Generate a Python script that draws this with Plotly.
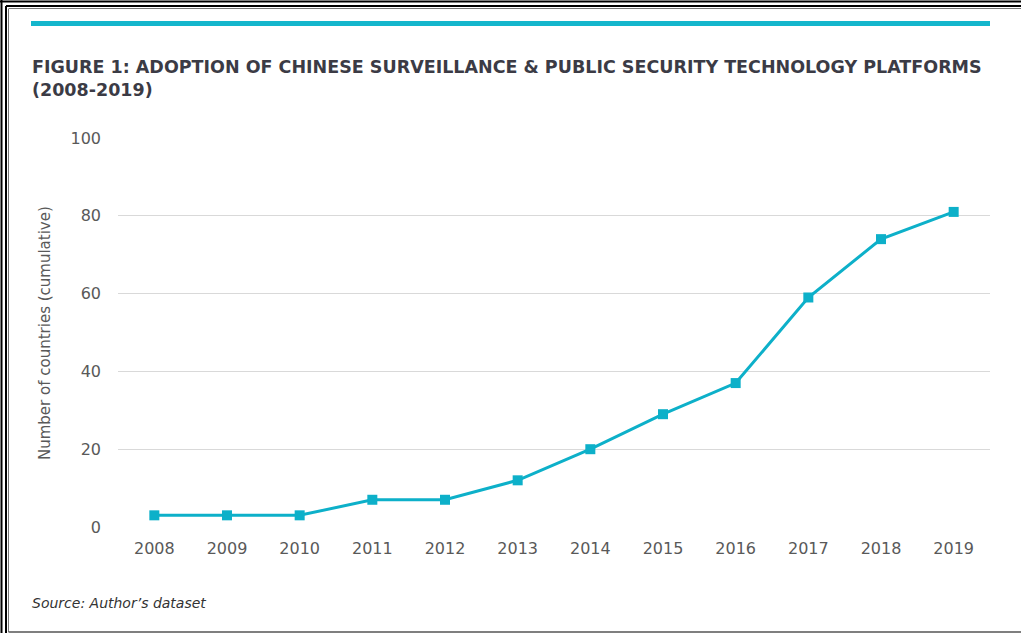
import plotly.graph_objects as go

years = ["2008", "2009", "2010", "2011", "2012", "2013", "2014", "2015", "2016", "2017", "2018", "2019"]
countries = [3, 3, 3, 7, 7, 12, 20, 29, 37, 59, 74, 81]
y_ticks = [0, 20, 40, 60, 80, 100]

W, H = 1021, 633
def px(x):
    return x / W
def py(y):
    return 1 - y / H

TEAL = "#0db0c9"
TXT = "#595959"
FONT = "DejaVu Sans, Liberation Sans, sans-serif"

fig = go.Figure()
fig.add_trace(go.Scatter(
    x=years, y=countries, mode="lines+markers",
    line=dict(color=TEAL, width=3),
    marker=dict(symbol="square", size=10, color=TEAL),
    cliponaxis=False, showlegend=False, hoverinfo="x+y",
))

fig.update_layout(
    width=W, height=H,
    margin=dict(l=0, r=0, t=0, b=0),
    paper_bgcolor="white", plot_bgcolor="white",
    font=dict(family=FONT, color=TXT, size=16),
    xaxis=dict(
        domain=[px(118), px(990)], type="category", range=[-0.5, 11.5],
        showgrid=False, zeroline=False, showline=False, ticks="",
        tickfont=dict(size=16, color=TXT), ticklabelstandoff=10, automargin=False,
    ),
    yaxis=dict(
        domain=[py(527), py(138)], range=[0, 100], tickvals=y_ticks,
        showgrid=True, gridcolor="#d9d9d9", gridwidth=1, zeroline=False, showline=False,
        ticks="", tickfont=dict(size=16, color=TXT), ticklabelstandoff=16, automargin=False,
    ),
    shapes=[
        # teal top bar
        dict(type="rect", xref="paper", yref="paper", x0=px(31), x1=px(990), y0=py(26), y1=py(21),
             fillcolor="#14b6cc", line=dict(width=0)),
        # outer double border (top)
        dict(type="line", xref="paper", yref="paper", x0=0, x1=1, y0=py(1.5), y1=py(1.5),
             line=dict(color="black", width=2)),
        dict(type="line", xref="paper", yref="paper", x0=px(6), x1=1, y0=py(6), y1=py(6),
             line=dict(color="black", width=2)),
        dict(type="line", xref="paper", yref="paper", x0=px(9), x1=1, y0=py(8.5), y1=py(8.5),
             line=dict(color="#777777", width=1)),
        # left
        dict(type="line", xref="paper", yref="paper", x0=px(1.5), x1=px(1.5), y0=0, y1=1,
             line=dict(color="black", width=2)),
        dict(type="line", xref="paper", yref="paper", x0=px(6), x1=px(6), y0=0, y1=py(6),
             line=dict(color="black", width=2)),
        dict(type="line", xref="paper", yref="paper", x0=px(8.5), x1=px(8.5), y0=py(632), y1=py(8.5),
             line=dict(color="#777777", width=1)),
        # bottom
        dict(type="line", xref="paper", yref="paper", x0=px(8.5), x1=1, y0=py(632), y1=py(632),
             line=dict(color="#555555", width=1.5)),
    ],
    annotations=[
        dict(text="<b>FIGURE 1: ADOPTION OF CHINESE SURVEILLANCE &amp; PUBLIC SECURITY TECHNOLOGY PLATFORMS<br>(2008-2019)</b>",
             xref="paper", yref="paper", x=px(30), y=py(55), xanchor="left", yanchor="top",
             align="left", showarrow=False,
             font=dict(family=FONT, size=17.5, color="#3b3b45")),
        dict(text="Number of countries (cumulative)", xref="paper", yref="paper",
             x=px(45), y=py(333), xanchor="center", yanchor="middle", textangle=-90, showarrow=False,
             font=dict(family=FONT, size=15, color=TXT)),
        dict(text="<i>Source: Author’s dataset</i>", xref="paper", yref="paper",
             x=px(30), y=py(603), xanchor="left", yanchor="middle", showarrow=False,
             font=dict(family=FONT, size=14, color="#333333")),
    ],
)

fig.write_html("out.html")
